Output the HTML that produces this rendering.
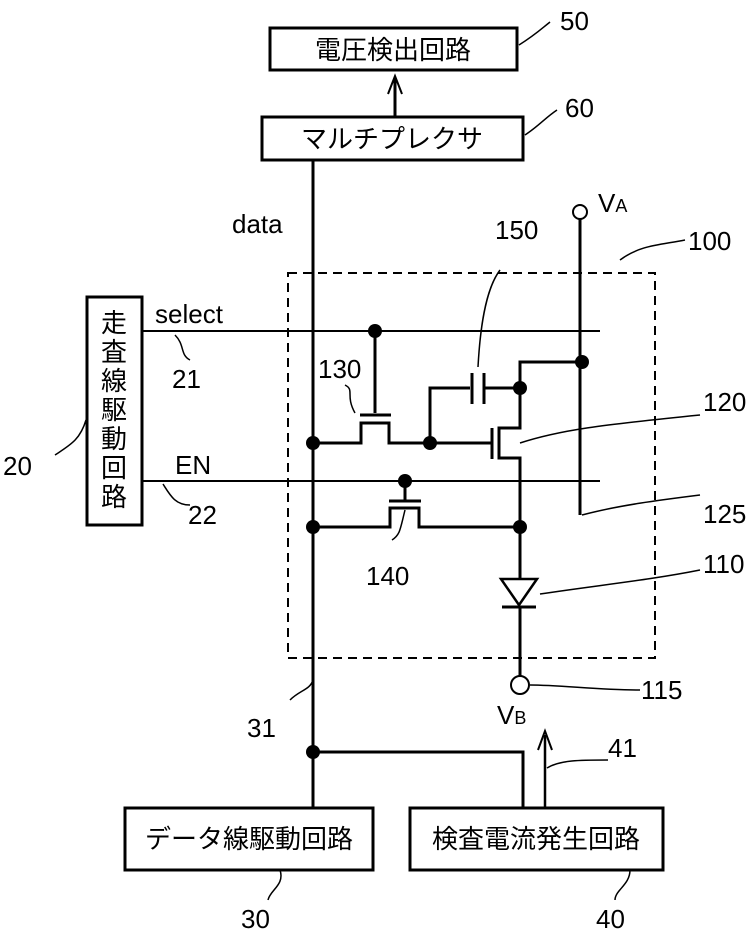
<!DOCTYPE html>
<html><head><meta charset="utf-8"><style>
body{margin:0;background:#fff}
svg text{font-family:"Liberation Sans","DejaVu Sans","Noto Sans CJK JP",sans-serif;fill:#000}
</style></head><body>
<svg width="756" height="935" viewBox="0 0 756 935" xmlns="http://www.w3.org/2000/svg">
<g fill="none" stroke="#000" stroke-width="3">
<rect x="270" y="28" width="247" height="42"/>
<rect x="262" y="117" width="261" height="43"/>
<rect x="87" y="297" width="55" height="228"/>
<rect x="125" y="808" width="248" height="62"/>
<rect x="410" y="808" width="253" height="62"/>
</g>
<rect x="288" y="273" width="367" height="385" fill="none" stroke="#000" stroke-width="2" stroke-dasharray="9,6"/>
<g fill="none" stroke="#000" stroke-width="3">
<line x1="395" y1="117" x2="395" y2="78"/>
<path d="M388 94 L395 76 L402 94" stroke-width="2"/>
<line x1="313" y1="160" x2="313" y2="808"/>
<line x1="142" y1="331" x2="600" y2="331" stroke-width="2"/>
<line x1="142" y1="481" x2="600" y2="481" stroke-width="2"/>
<line x1="580" y1="219" x2="580" y2="515"/>
<line x1="375" y1="331" x2="375" y2="413"/>
<line x1="360" y1="415" x2="391" y2="415"/>
<path d="M313 443 H361 V423 H389 V443 H430"/>
<path d="M430 443 V388 H470"/>
<line x1="472" y1="373" x2="472" y2="404"/>
<line x1="484" y1="373" x2="484" y2="404"/>
<path d="M484 388 H520"/>
<path d="M520 388 V362 H580"/>
<path d="M430 443 H491"/>
<line x1="492" y1="428" x2="492" y2="459"/>
<path d="M520 388 V428 H499 V458 H520 V579"/>
<line x1="405" y1="481" x2="405" y2="500"/>
<line x1="389" y1="501" x2="421" y2="501"/>
<path d="M313 527 H390 V508 H419 V527 H520"/>
<path d="M501 579 H537 L519 605 Z" stroke-width="2.5"/>
<line x1="502" y1="607" x2="536" y2="607"/>
<line x1="520" y1="607" x2="520" y2="676"/>
<path d="M313 752 H523 V808"/>
<line x1="545" y1="808" x2="545" y2="735" stroke-width="2.5"/>
<path d="M538 750 L545 731 L552 750" stroke-width="2"/>
</g>
<g fill="none" stroke="#000" stroke-width="2">
<circle cx="580" cy="212" r="7"/>
<circle cx="520" cy="685" r="9"/>
</g>
<g fill="#000">
<circle cx="375" cy="331" r="7"/><circle cx="582" cy="362" r="7"/>
<circle cx="520" cy="388" r="7"/><circle cx="313" cy="443" r="7"/>
<circle cx="430" cy="443" r="7"/><circle cx="405" cy="481" r="7"/>
<circle cx="313" cy="527" r="7"/><circle cx="520" cy="527" r="7"/>
<circle cx="313" cy="752" r="7"/>
</g>
<g fill="none" stroke="#000" stroke-width="1.5">
<path d="M519 45 C535 35 540 30 550 22"/>
<path d="M525 135 C540 125 545 118 557 110"/>
<path d="M478 367 C480 330 485 290 500 270"/>
<path d="M520 443 C560 430 600 425 700 415"/>
<path d="M582 515 C620 505 660 500 700 495"/>
<path d="M540 594 C600 585 650 580 700 570"/>
<path d="M530 685 C560 685 600 690 640 690"/>
<path d="M547 768 C560 760 580 760 608 760"/>
<path d="M313 680 C310 690 300 690 290 700"/>
<path d="M280 870 C285 885 270 890 268 900"/>
<path d="M630 870 C630 885 615 890 615 900"/>
<path d="M86 420 C80 440 70 445 55 455"/>
<path d="M175 335 C185 345 180 355 190 360"/>
<path d="M163 484 C170 495 175 505 190 505"/>
<path d="M355 413 C345 395 355 390 345 385"/>
<path d="M405 510 C400 530 400 535 392 540"/>
<path d="M620 260 C640 245 660 245 685 240"/>
</g>
<g font-size="26" text-anchor="middle">
<text x="393" y="59">電圧検出回路</text>
<text x="392" y="148">マルチプレクサ</text>
<text x="249" y="848">データ線駆動回路</text>
<text x="536" y="848">検査電流発生回路</text>
</g>
<g font-size="26" text-anchor="middle">
<text x="114" y="332">走</text><text x="114" y="361">査</text><text x="114" y="390">線</text>
<text x="114" y="419">駆</text><text x="114" y="448">動</text><text x="114" y="477">回</text><text x="114" y="506">路</text>
</g>
<g font-size="26">
<text x="560" y="30">50</text>
<text x="565" y="117">60</text>
<text x="232" y="233">data</text>
<text x="155" y="323">select</text>
<text x="172" y="388">21</text>
<text x="175" y="474">EN</text>
<text x="188" y="524">22</text>
<text x="3" y="475">20</text>
<text x="318" y="378">130</text>
<text x="495" y="239">150</text>
<text x="598" y="212">V<tspan font-size="18">A</tspan></text>
<text x="688" y="250">100</text>
<text x="703" y="411">120</text>
<text x="703" y="523">125</text>
<text x="703" y="573">110</text>
<text x="366" y="585">140</text>
<text x="641" y="699">115</text>
<text x="497" y="724">V<tspan font-size="18">B</tspan></text>
<text x="247" y="737">31</text>
<text x="608" y="757">41</text>
<text x="241" y="928">30</text>
<text x="596" y="928">40</text>
</g>
</svg>
</body></html>
